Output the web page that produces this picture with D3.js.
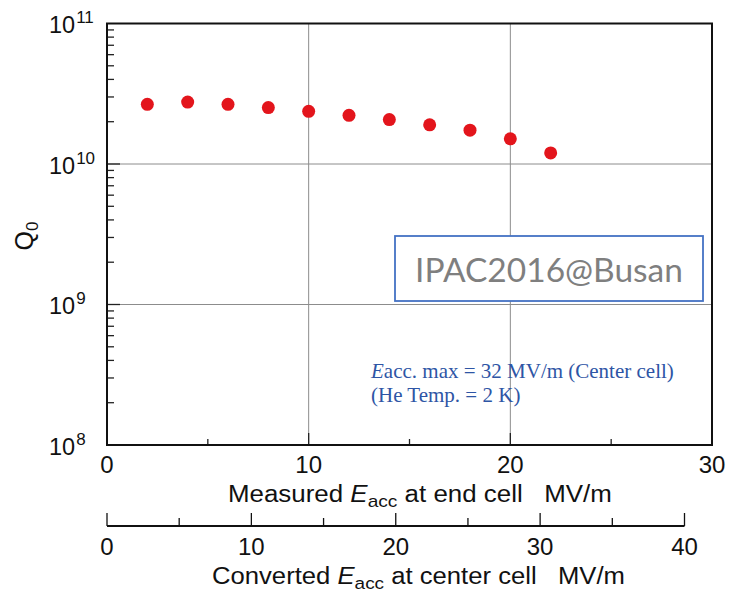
<!DOCTYPE html>
<html>
<head>
<meta charset="utf-8">
<script src="https://cdn.jsdelivr.net/npm/d3@7"></script>
<style>
  html, body { margin: 0; padding: 0; background: #fff; }
  svg { display: block; }
  text { white-space: pre; }
</style>
</head>
<body>
<svg id="chart" width="729" height="593"></svg>
<script>
// Measured accelerating field at the end cell (MV/m)
const eaccEnd = [2, 4, 6, 8, 10, 12, 14, 16, 18, 20, 22];
// Unloaded quality factor Q0
const q0 = [2.66e10, 2.76e10, 2.66e10, 2.52e10, 2.37e10, 2.22e10, 2.07e10, 1.90e10, 1.74e10, 1.51e10, 1.20e10];

const xTicks = [0, 10, 20, 30];
const xMinor = [5, 15, 25];
const centerTicks = [0, 10, 20, 30, 40];
const centerMinor = [5, 15, 25, 35];
const yDecades = [1e8, 1e9, 1e10, 1e11];
const yExponents = ["8", "9", "10", "11"];

const noteLines = ["acc. max = 32 MV/m (Center cell)", "(He Temp. = 2 K)"];
const stamp = "IPAC2016@Busan";

const svg = d3.select("#chart");
const L = 107, R = 712, T = 23.5, B = 445;

const x = d3.scaleLinear().domain([0, 30]).range([L, R]);
const y = d3.scaleLog().domain([1e8, 1e11]).range([B, T]);
const xc = d3.scaleLinear().domain([0, 40]).range([L, 684.5]);

const sans = "'Liberation Sans', Arial, Helvetica, sans-serif";

// grid lines
const grid = svg.append("g").attr("stroke", "#8c8c8c").attr("stroke-width", 1);
[10, 20].forEach(v => grid.append("line")
  .attr("x1", x(v)).attr("x2", x(v)).attr("y1", T).attr("y2", B));
[1e9, 1e10].forEach(v => grid.append("line")
  .attr("x1", L).attr("x2", R).attr("y1", y(v)).attr("y2", y(v)));

// left axis ticks (inward), minor ticks 2..9 per decade
const ticks = svg.append("g").attr("stroke", "#222").attr("stroke-width", 1.3);
const yMinor = [];
for (let d = 8; d < 11; d++) for (let m = 2; m <= 9; m++) yMinor.push(m * Math.pow(10, d));
yMinor.forEach(v => ticks.append("line")
  .attr("x1", L).attr("x2", L + 7).attr("y1", y(v)).attr("y2", y(v)));
[1e9, 1e10].forEach(v => ticks.append("line")
  .attr("x1", L).attr("x2", L + 13).attr("y1", y(v)).attr("y2", y(v)));

// bottom axis ticks (inward)
xMinor.forEach(v => ticks.append("line")
  .attr("x1", x(v)).attr("x2", x(v)).attr("y1", B).attr("y2", B - 6));
[10, 20].forEach(v => ticks.append("line")
  .attr("x1", x(v)).attr("x2", x(v)).attr("y1", B).attr("y2", B - 12));

// frame
svg.append("rect")
  .attr("x", L).attr("y", T).attr("width", R - L).attr("height", B - T)
  .attr("fill", "none").attr("stroke", "#111").attr("stroke-width", 2);

// stamp box
const bx = 395, by = 236, bw = 308, bh = 65;
svg.append("rect")
  .attr("x", bx).attr("y", by).attr("width", bw).attr("height", bh)
  .attr("fill", "#fff").attr("stroke", "#4472c4").attr("stroke-width", 1.8);
svg.append("text")
  .attr("x", bx + bw / 2).attr("y", by + 46)
  .attr("text-anchor", "middle")
  .attr("font-family", "Lato, 'Open Sans', sans-serif")
  .attr("font-size", 33.5).attr("fill", "#7f7f7f")
  .text(stamp);

// data points
svg.append("g").selectAll("circle")
  .data(eaccEnd.map((e, i) => ({ e, q: q0[i] })))
  .join("circle")
  .attr("cx", d => x(d.e)).attr("cy", d => y(d.q))
  .attr("r", 6.5).attr("fill", "#e3151c");

// note text
const note = svg.append("g")
  .attr("font-family", "'Liberation Serif', 'Times New Roman', serif")
  .attr("font-size", 21).attr("fill", "#2e55a5");
const n1 = note.append("text").attr("x", 371).attr("y", 378);
n1.append("tspan").attr("font-style", "italic").text("E");
n1.append("tspan").text(noteLines[0]);
note.append("text").attr("x", 371).attr("y", 402).text(noteLines[1]);

// y tick labels
const yl = svg.append("g").attr("font-family", sans).attr("fill", "#111");
yDecades.forEach((v, i) => {
  const t = yl.append("text").attr("x", 49).attr("y", y(v) + 9.5);
  t.append("tspan").attr("font-size", 23.5).text("10");
  t.append("tspan").attr("font-size", 17).attr("dy", -10).attr("dx", 1).text(yExponents[i]);
});

// x tick labels
const xl = svg.append("g").attr("font-family", sans).attr("font-size", 24)
  .attr("fill", "#111").attr("text-anchor", "middle");
xTicks.forEach(v => xl.append("text").attr("x", x(v)).attr("y", 473).text(v));

// axis title with a subscripted E_acc, stretched to span [x0, x1]
function title(x0, x1, yBase, before, after) {
  const t = svg.append("text").attr("y", yBase)
    .attr("font-family", sans).attr("font-size", 23).attr("fill", "#111");
  t.append("tspan").text(before);
  t.append("tspan").attr("font-style", "italic").text("E");
  t.append("tspan").attr("font-size", 17).attr("dy", 5).text("acc");
  t.append("tspan").attr("dy", -5).text(after);
  const w = t.node().getComputedTextLength();
  t.attr("transform", `translate(${x0},0) scale(${(x1 - x0) / w},1)`);
  return t;
}
title(228, 612, 502, "Measured ", " at end cell   MV/m");

// y title
const yt = svg.append("text")
  .attr("transform", "translate(33,236) rotate(-90)")
  .attr("font-family", sans).attr("font-size", 25).attr("fill", "#111")
  .attr("text-anchor", "middle");
yt.append("tspan").text("Q");
yt.append("tspan").attr("font-size", 17).attr("dy", 5).text("0");

// secondary axis: converted field at center cell
const ay = 526;
const sec = svg.append("g").attr("stroke", "#111");
sec.append("line").attr("x1", xc(0)).attr("x2", xc(40)).attr("y1", ay).attr("y2", ay)
  .attr("stroke-width", 2);
centerTicks.forEach(v => sec.append("line")
  .attr("x1", xc(v)).attr("x2", xc(v)).attr("y1", ay).attr("y2", ay - 13).attr("stroke-width", 1.3));
centerMinor.forEach(v => sec.append("line")
  .attr("x1", xc(v)).attr("x2", xc(v)).attr("y1", ay).attr("y2", ay - 8).attr("stroke-width", 1.3));

const cl = svg.append("g").attr("font-family", sans).attr("font-size", 24)
  .attr("fill", "#111").attr("text-anchor", "middle");
centerTicks.forEach(v => cl.append("text").attr("x", xc(v)).attr("y", 555).text(v));

title(212, 625, 584, "Converted ", " at center cell   MV/m");
</script>
</body>
</html>
